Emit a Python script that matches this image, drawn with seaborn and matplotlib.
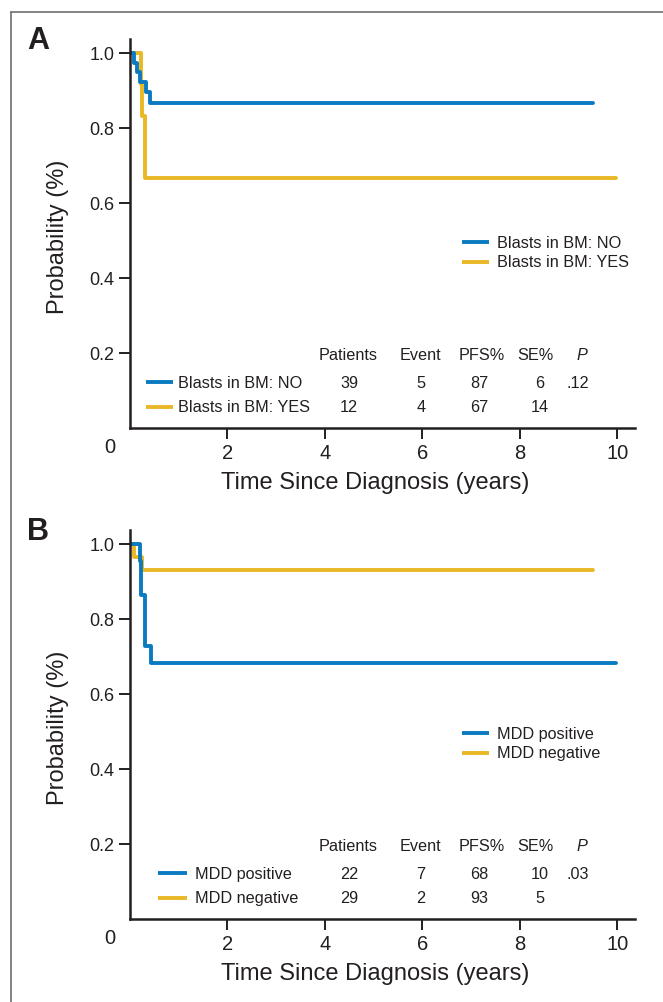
import numpy as np
import pandas as pd
import matplotlib
matplotlib.use("Agg")
import matplotlib.pyplot as plt
import seaborn as sns
from matplotlib.lines import Line2D

# ---------------- data ----------------
# Panel A: Blasts in BM
a_no_time = [0, 0.09, 0.15, 0.20, 0.33, 0.41, 9.49]
a_no_surv = [1.0, 0.974, 0.949, 0.923, 0.897, 0.867, 0.867]
a_yes_time = [0, 0.22, 0.24, 0.31, 9.96]
a_yes_surv = [1.0, 0.917, 0.833, 0.667, 0.667]
a_labels = ["Blasts in BM: NO", "Blasts in BM: YES"]

# Panel B: MDD
b_pos_time = [0, 0.20, 0.23, 0.31, 0.43, 9.96]
b_pos_surv = [1.0, 0.955, 0.864, 0.727, 0.682, 0.682]
b_neg_time = [0, 0.09, 0.25, 9.49]
b_neg_surv = [1.0, 0.966, 0.931, 0.931]
b_labels = ["MDD positive", "MDD negative"]

table_header = ["Patients", "Event", "PFS%", "SE%", "P"]
a_table = [["39", "5", "87", "6", ".12"], ["12", "4", "67", "14", ""]]
b_table = [["22", "7", "68", "10", ".03"], ["29", "2", "93", "5", ""]]

x_ticks = [2, 4, 6, 8, 10]
y_ticks = [0.2, 0.4, 0.6, 0.8, 1.0]
y_tick_labels = ["0.2", "0.4", "0.6", "0.8", "1.0"]

BLUE = "#0b7bc1"
YELLOW = "#e9b825"
INK = "#231f20"

# ---------------- style ----------------
sns.set_theme(style="ticks")
plt.rcParams["font.family"] = ["Liberation Sans", "DejaVu Sans"]

fig = plt.figure(figsize=(6.63, 10.03), dpi=100)

W, H = 663.0, 1003.0
ax_left = 130 / W
ax_w = 505 / W
ax_h = 389 / H
axA = fig.add_axes([ax_left, 1 - 429 / H, ax_w, ax_h])
axB = fig.add_axes([ax_left, 1 - 920 / H, ax_w, ax_h])


def make_df(t1, s1, l1, t2, s2, l2):
    d1 = pd.DataFrame({"time": t1, "surv": s1, "group": l1})
    d2 = pd.DataFrame({"time": t2, "surv": s2, "group": l2})
    return pd.concat([d1, d2], ignore_index=True)


def key(ax, x0, x1, y, color, label, xt, fs=11.7):
    ax.plot([x0, x1], [y, y], transform=ax.transAxes, color=color, lw=2.8,
            solid_capstyle="butt", clip_on=False)
    ax.text(xt, y, label, transform=ax.transAxes, ha="left", va="center",
            fontsize=fs, color=INK)


def panel(ax, df, labels, order_colors, table, tab_line, tab_text):
    pal = dict(zip(labels, order_colors))
    sns.lineplot(data=df, x="time", y="surv", hue="group", palette=pal,
                 hue_order=labels[::-1], drawstyle="steps-post",
                 estimator=None, sort=False, lw=2.8, legend=False, ax=ax)
    ax.set_xlim(0, 10.36)
    ax.set_ylim(0, 1.037)
    ax.set_xticks(x_ticks)
    ax.set_xticklabels([str(v) for v in x_ticks], fontsize=14.5, color=INK)
    ax.set_yticks(y_ticks)
    ax.set_yticklabels(y_tick_labels, fontsize=13, color=INK)
    ax.tick_params(axis="y", direction="out", length=8, width=1.4, pad=3,
                   color=INK)
    ax.tick_params(axis="x", direction="out", length=8, width=1.4, pad=3,
                   color=INK)
    for s in ["top", "right"]:
        ax.spines[s].set_visible(False)
    for s in ["left", "bottom"]:
        ax.spines[s].set_linewidth(1.8)
        ax.spines[s].set_color(INK)
    ax.annotate("0", xy=(0, 0), xycoords=("data", "axes fraction"),
                xytext=(-20, -19), textcoords="offset pixels", ha="center",
                va="center", fontsize=14.5, color=INK)
    ax.set_xlabel("Time Since Diagnosis (years)", fontsize=17, color=INK)
    ax.set_ylabel("Probability (%)", fontsize=17, color=INK)
    ax.xaxis.set_label_coords(0.485, -0.139)
    ax.xaxis.label.set_va("center")
    ax.yaxis.set_label_coords(-0.143, 0.494)
    ax.yaxis.label.set_va("center")

    # legend (upper right)
    for lab, col, yy in zip(labels, order_colors, [0.477, 0.428]):
        key(ax, 0.657, 0.711, yy, col, lab, 0.727)

    # table
    hx = [0.432, 0.576, 0.697, 0.802, 0.895]
    vx = [0.434, 0.576, 0.691, 0.812, 0.887]
    for h, x in zip(table_header, hx):
        ax.text(x, 0.190, h, transform=ax.transAxes, ha="center", va="center",
                fontsize=11.7, color=INK,
                style="italic" if h == "P" else "normal")
    for row, lab, col, yy in zip(table, labels, order_colors, [0.118, 0.055]):
        key(ax, tab_line[0], tab_line[1], yy, col, lab, tab_text)
        for v, x in zip(row, vx):
            ax.text(x, yy, v, transform=ax.transAxes, ha="center", va="center",
                    fontsize=11.7, color=INK)


dfA = make_df(a_no_time, a_no_surv, a_labels[0], a_yes_time, a_yes_surv, a_labels[1])
dfB = make_df(b_pos_time, b_pos_surv, b_labels[0], b_neg_time, b_neg_surv, b_labels[1])

panel(axA, dfA, a_labels, [BLUE, YELLOW], a_table, (0.032, 0.085), 0.095)
panel(axB, dfB, b_labels, [BLUE, YELLOW], b_table, (0.055, 0.113), 0.129)

# panel letters
fig.text(38 / W, 1 - 41 / H, "A", fontsize=22, fontweight="bold", ha="center",
         va="center", color=INK)
fig.text(38 / W, 1 - 532 / H, "B", fontsize=22, fontweight="bold", ha="center",
         va="center", color=INK)

# outer frame (top and left edges)
fig.add_artist(Line2D([10.5 / W, 10.5 / W], [0, 1 - 12.5 / H],
                      transform=fig.transFigure, color="#6d6e71", lw=1.2))
fig.add_artist(Line2D([10.5 / W, 1], [1 - 12.5 / H, 1 - 12.5 / H],
                      transform=fig.transFigure, color="#6d6e71", lw=1.2))

fig.savefig("out.png", dpi=100)
